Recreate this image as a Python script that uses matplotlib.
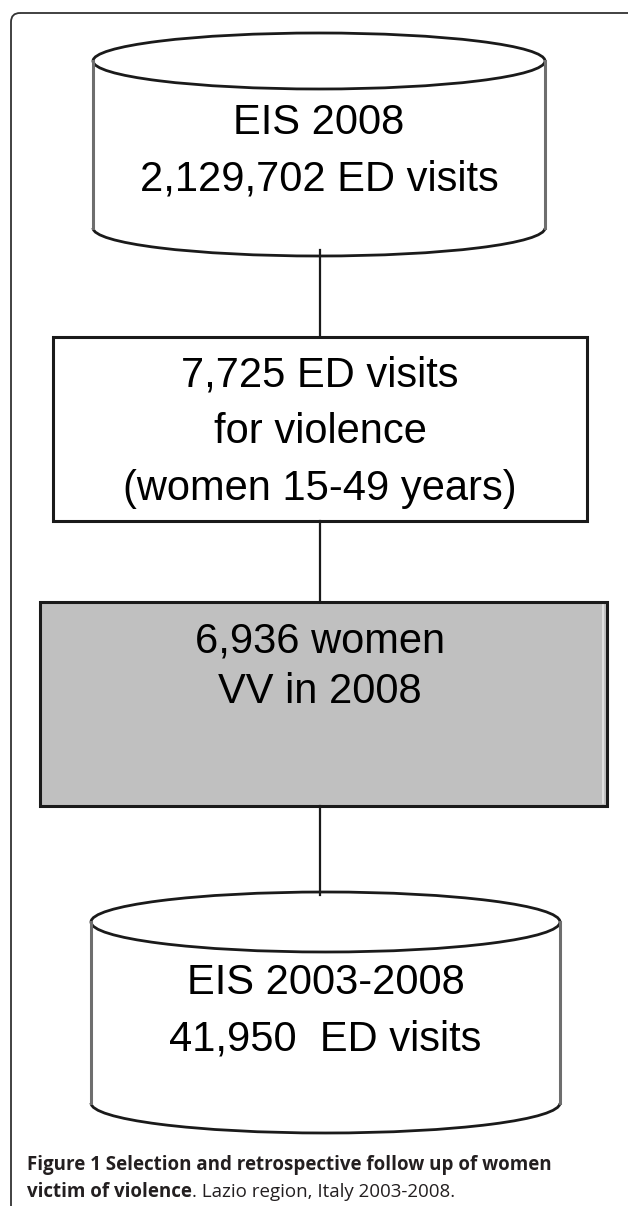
import matplotlib.pyplot as plt
from matplotlib.patches import Ellipse, Arc, Rectangle, FancyBboxPatch

# texts of the flow chart, top to bottom
top_db = ["EIS 2008", "2,129,702 ED visits"]
box_visits = ["7,725 ED visits", "for violence", "(women 15-49 years)"]
box_women = ["6,936 women", "VV in 2008"]
bottom_db = ["EIS 2003-2008", "41,950  ED visits"]
caption_bold_1 = "Figure 1 Selection and retrospective follow up of women"
caption_bold_2 = "victim of violence"
caption_rest_2 = ". Lazio region, Italy 2003-2008."

W, H = 628, 1206
fig = plt.figure(figsize=(W / 100, H / 100), dpi=100)
ax = fig.add_axes([0, 0, 1, 1])
ax.set_xlim(0, W)
ax.set_ylim(H, 0)
ax.axis("off")

line_col = "#1a1a1a"
wall_col = "#6e6e6e"
font = "Liberation Sans"
fs = 30

# outer frame
ax.add_patch(FancyBboxPatch((11, 13), 640, 1210, boxstyle="round,pad=0,rounding_size=9",
                            fill=False, ec="#333333", lw=1.3))


def cylinder(cx, cy, a, b, ybot, lines, ty, dy):
    ax.add_patch(Rectangle((cx - a, cy), 2 * a, ybot - cy, fc="white", ec="none"))
    ax.add_patch(Ellipse((cx, ybot), 2 * a, 2 * b, fc="white", ec="none"))
    ax.plot([cx - a, cx - a], [cy, ybot], color=wall_col, lw=2.2)
    ax.plot([cx + a, cx + a], [cy, ybot], color=wall_col, lw=2.2)
    ax.add_patch(Arc((cx, ybot), 2 * a, 2 * b, theta1=0, theta2=180, color=line_col, lw=2.0))
    ax.add_patch(Ellipse((cx, cy), 2 * a, 2 * b, fc="white", ec=line_col, lw=2.0))
    for i, t in enumerate(lines):
        ax.text(cx, ty + i * dy, t, ha="center", va="center", fontsize=fs,
                family=font, color="black")


def box(x0, x1, y0, y1, fc, lines, ty, dy):
    ax.add_patch(Rectangle((x0, y0), x1 - x0, y1 - y0, fc=fc, ec=line_col, lw=2.2))
    for i, t in enumerate(lines):
        ax.text(320, ty + i * dy, t, ha="center", va="center", fontsize=fs,
                family=font, color="black")


# connectors
ax.plot([320, 320], [250, 337], color=line_col, lw=1.6)
ax.plot([320, 320], [521, 602], color=line_col, lw=1.6)
ax.plot([320, 320], [806, 895], color=line_col, lw=1.6)

cylinder(319, 61, 226, 28, 228, top_db, 123, 57)
box(53, 587, 337, 521, "white", box_visits, 375, 57)
box(40, 607, 602, 806, "#c0c0c0", box_women, 641, 51)
# light inner edge on the grey box
ax.plot([603, 603], [605, 803], color="#e6e6e6", lw=1.2)
cylinder(325.5, 922, 234.5, 30, 1103, bottom_db, 983, 57)

# caption
cap_font = "Open Sans"
cap_fs = 13.5
ax.text(27, 1165, caption_bold_1, fontsize=cap_fs, fontweight="bold", family=cap_font,
        color="#231f20", va="center", ha="left")
t = ax.text(27, 1192, caption_bold_2, fontsize=cap_fs, fontweight="bold", family=cap_font,
            color="#231f20", va="center", ha="left")
fig.canvas.draw()
bb = t.get_window_extent().transformed(ax.transData.inverted())
ax.text(bb.x1, 1192, caption_rest_2, fontsize=cap_fs, family=cap_font,
        color="#231f20", va="center", ha="left")

fig.savefig("out.png", dpi=100)
